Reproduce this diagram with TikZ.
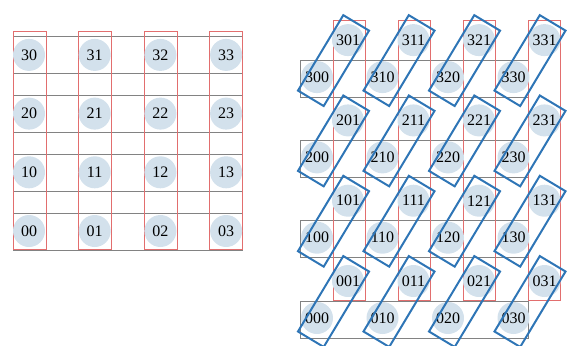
\documentclass[tikz,border=0pt]{standalone}
\usepackage{fontspec}
\setmainfont{Liberation Serif}
\usetikzlibrary{calc}
\definecolor{dotblue}{RGB}{211,225,236}
\definecolor{boxred}{RGB}{226,110,110}
\definecolor{pairblue}{RGB}{46,117,182}
\definecolor{linegray}{RGB}{130,130,130}

\begin{document}
\begin{tikzpicture}[x=0.5pt, y=-0.5pt,
    site/.style={circle, fill=dotblue, minimum size=16pt, inner sep=0pt, font=\fontsize{8}{9}\selectfont},
    column/.style={draw=boxred, line width=0.5pt},
    row/.style={draw=linegray, line width=0.5pt},
    pair/.style={rectangle, draw=pairblue, line width=1pt, minimum width=44pt, minimum height=15pt, inner sep=0pt, rotate=59}
]
\useasboundingbox (0,0) rectangle (568,345);

% left lattice
\foreach \r in {0,...,3}
  \draw[row] (13,{213-58.7*\r}) rectangle (242,{250-58.7*\r});
\foreach \c in {0,...,3}
  \draw[column] ({13+65.6*\c},31) rectangle ({46+65.6*\c},249);
\foreach \r in {0,...,3}
  \foreach \c in {0,...,3}
    \node[site] (l\r\c) at ({29+65.7*\c},{231-58.7*\r}) {\r\c};

% right lattice
\foreach \r in {0,...,3}
  \draw[row] (300,{301-80.3*\r}) rectangle (528,{338-80.3*\r});
\foreach \c in {0,...,3}
  \draw[column] ({333+65*\c},20) rectangle ({365.5+65*\c},300);
\foreach \r in {0,...,3}
  \foreach \c in {0,...,3} {
    \node[site] (r\r\c0) at ({317+65.5*\c},{318-80.3*\r}) {\r\c0};
    \node[site] (r\r\c1) at ({348+65.5*\c},{281-80.3*\r}) {\r\c1};
  }
\foreach \r in {0,...,3}
  \foreach \c in {0,...,3}
    \node[pair] (p\r\c) at ($(r\r\c0)!0.5!(r\r\c1)+(1,2)$) {};
\end{tikzpicture}
\end{document}
